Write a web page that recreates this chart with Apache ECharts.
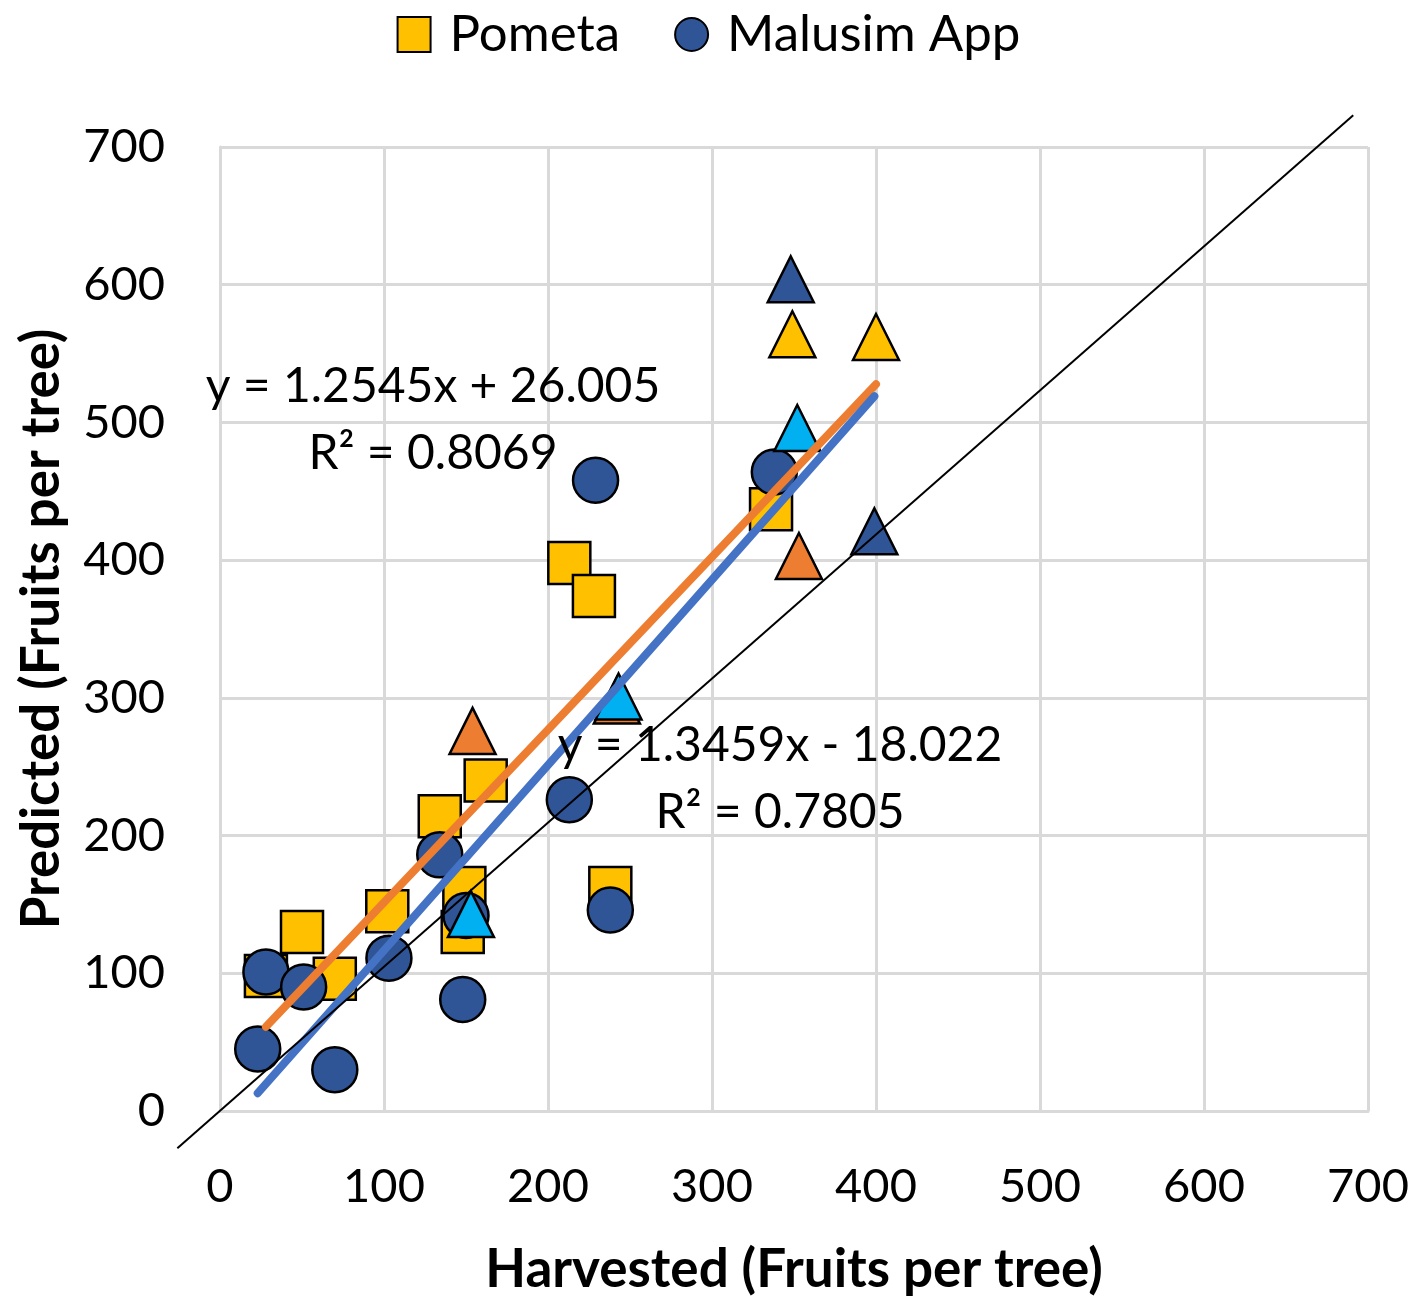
<!DOCTYPE html>
<html>
<head>
<meta charset="utf-8">
<script src="https://cdn.jsdelivr.net/npm/echarts@6/dist/echarts.min.js"></script>
<style>
html,body{margin:0;padding:0;background:#fff;}
#chart{width:1417px;height:1297px;}
</style>
</head>
<body>
<div id="chart"></div>
<script>
// ---- data ----
const pometaSquares = [[28,98],[50,130],[70,96],[102,145],[134,214],[162,240],[149,162],[148,130],[213,398],[228,374],[238,162],[336,437]];
const malusimCircles = [[23,45],[28,101],[51,90],[70,30],[103,111],[148,81],[150,142],[134,186],[213,226],[238,146],[229,458],[338,464]];
const yellowTriangles = [[349,564],[400,562]];
const darkBlueTriangles = [[348,604],[399,421]];
const orangeTriangles = [[154,276],[242,298],[353,403]];
const cyanTriangles = [[153,143],[243,301],[352,496]];
const pometaTrend = [1.2545, 26.005];     // slope, intercept
const malusimTrend = [1.3459, -18.022];
const pometaR2 = '0.8069';
const malusimR2 = '0.7805';
const refLine = [[-26,-27],[691,723]];   // hand-drawn 1:1 reference line
const axisMin = 0, axisMax = 700, axisStep = 100;
const xTitle = 'Harvested (Fruits per tree)';
const yTitle = 'Predicted (Fruits per tree)';

// ---- derived ----
const pometaAll = pometaSquares.concat(yellowTriangles, orangeTriangles);
const malusimAll = malusimCircles.concat(darkBlueTriangles, cyanTriangles);
function trendData(pts, coef){
  const xs = pts.map(p=>p[0]);
  const x0 = Math.min(...xs), x1 = Math.max(...xs);
  return [[x0, coef[0]*x0+coef[1]], [x1, coef[0]*x1+coef[1]]];
}
function eqText(coef, r2){
  const sign = coef[1] >= 0 ? ' + ' : ' - ';
  return 'y = ' + coef[0].toFixed(4) + 'x' + sign + Math.abs(coef[1]).toFixed(3) + '\nR² = ' + r2;
}

const FONT = 'Lato, "Noto Sans", sans-serif';
const border = {borderColor:'#000', borderWidth:2.5, opacity:1};
const gridColor = '#d9d9d9';

const chart = echarts.init(document.getElementById('chart'), null, {renderer:'canvas'});
chart.setOption({
  animation:false,
  backgroundColor:'#fff',
  textStyle:{fontFamily:FONT},
  legend:{
    data:['Pometa','Malusim App'],
    top:4, left:'center',
    itemWidth:33, itemHeight:35, itemGap:54,
    textStyle:{fontFamily:FONT, fontSize:51, color:'#000', padding:[0,0,0,14]}
  },
  grid:{left:220, right:49, top:147, bottom:186, containLabel:false, outerBoundsMode:'none'},
  xAxis:{
    type:'value', min:axisMin, max:axisMax, interval:axisStep,
    name:xTitle, nameLocation:'middle', nameGap:132,
    nameTextStyle:{fontFamily:FONT, fontSize:53, fontWeight:'bold', color:'#000'},
    axisLine:{show:true, lineStyle:{color:gridColor, width:3}},
    axisTick:{show:false},
    axisLabel:{fontFamily:FONT, fontSize:47, color:'#000', margin:52},
    splitLine:{show:true, lineStyle:{color:gridColor, width:3}}
  },
  yAxis:{
    type:'value', min:axisMin, max:axisMax, interval:axisStep,
    name:yTitle, nameLocation:'middle', nameGap:152,
    nameTextStyle:{fontFamily:FONT, fontSize:53, fontWeight:'bold', color:'#000'},
    axisLine:{show:true, lineStyle:{color:gridColor, width:3}},
    axisTick:{show:false},
    axisLabel:{fontFamily:FONT, fontSize:47, color:'#000', margin:55},
    splitLine:{show:true, lineStyle:{color:gridColor, width:3}}
  },
  series:[
    {name:'Pometa', type:'scatter', data:pometaSquares, symbol:'rect', symbolSize:42,
     itemStyle:Object.assign({color:'#FFC000'}, border), z:2},
    {name:'Malusim App', type:'scatter', data:malusimCircles, symbol:'circle', symbolSize:45,
     itemStyle:Object.assign({color:'#2F5597'}, border), z:3},
    {name:'Pometa B', type:'scatter', data:yellowTriangles, symbol:'triangle', symbolSize:[46,46],
     itemStyle:Object.assign({color:'#FFC000'}, border), z:4},
    {name:'Malusim B', type:'scatter', data:darkBlueTriangles, symbol:'triangle', symbolSize:[46,46],
     itemStyle:Object.assign({color:'#2F5597'}, border), z:4},
    {name:'Pometa C', type:'scatter', data:orangeTriangles, symbol:'triangle', symbolSize:[46,46],
     itemStyle:Object.assign({color:'#ED7D31'}, border), z:4},
    {name:'Malusim C', type:'scatter', data:cyanTriangles, symbol:'triangle', symbolSize:[46,46],
     itemStyle:Object.assign({color:'#00B0F0'}, border), z:5},
    {name:'Pometa trend', type:'line', data:trendData(pometaAll, pometaTrend), showSymbol:false, symbol:'none',
     lineStyle:{color:'#ED7D31', width:8, cap:'round'}, z:6},
    {name:'Malusim trend', type:'line', data:trendData(malusimAll, malusimTrend), showSymbol:false, symbol:'none',
     lineStyle:{color:'#4472C4', width:8, cap:'round'}, z:6}
  ]
});

// 1:1 reference line and equation labels (placed through the chart's own coordinate conversion)
const refPx = refLine.map(p => chart.convertToPixel({gridIndex:0}, p));
chart.setOption({
  graphic:[
    {type:'polyline', z:20, shape:{points:refPx}, style:{stroke:'#000', lineWidth:2, fill:null}},
    {type:'text', x:433, y:420, z:30,
     style:{text:eqText(pometaTrend, pometaR2), font:'48px ' + FONT, fill:'#000',
            textAlign:'center', textVerticalAlign:'middle', lineHeight:67}},
    {type:'text', x:780, y:779, z:30,
     style:{text:eqText(malusimTrend, malusimR2), font:'48px ' + FONT, fill:'#000',
            textAlign:'center', textVerticalAlign:'middle', lineHeight:67}}
  ]
});
</script>
</body>
</html>
